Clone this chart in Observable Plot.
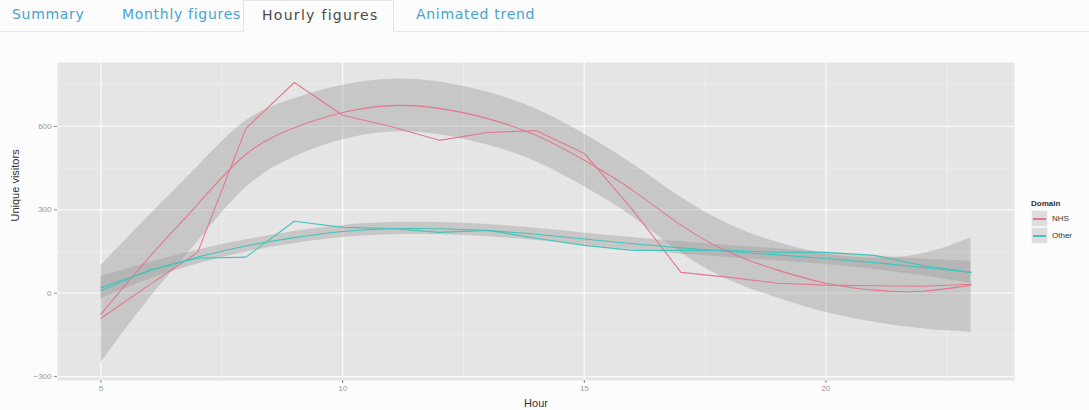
<!DOCTYPE html>
<html>
<head>
<meta charset="utf-8">
<script src="https://cdn.jsdelivr.net/npm/d3@7"></script>
<script src="https://cdn.jsdelivr.net/npm/@observablehq/plot@0.6"></script>
<style>
  html, body { margin: 0; padding: 0; background: #fbfcfb; width: 1089px; height: 410px; overflow: hidden; font-family: "Liberation Sans", Arial, sans-serif; }
  #tabs { position: relative; height: 32px; border-bottom: 1px solid #e6e8e8; box-sizing: border-box; }
  .tab { position: absolute; top: 6px; font-family: "DejaVu Sans", sans-serif; font-size: 14px; letter-spacing: 0.7px; color: #45a3d4; white-space: nowrap; }
  .tab.active { top: 0; height: 32px; box-sizing: border-box; border: 1px solid #e4e6e6; border-bottom: 1px solid #fbfcfb; background: #fbfcfb; color: #4a4a4a; letter-spacing: 1.3px; padding: 6px 15px 0 18px; }
  #chart { position: relative; }
  #legend { position: absolute; left: 1031px; top: 167px; font-size: 8px; color: #333; }
  #legend .title { font-weight: bold; margin-bottom: 2px; }
  .key { display: flex; align-items: center; height: 17px; }
  .sw { width: 17px; height: 17px; background: #dcdddc; position: relative; margin-right: 4px; border: 0.5px solid #f4f4f4; box-sizing: border-box;}
  .sw i { position: absolute; left: 1px; right: 1px; top: 7px; height: 2px; }
</style>
</head>
<body>
<div id="tabs">
  <span class="tab" style="left:12px">Summary</span>
  <span class="tab" style="left:122px">Monthly figures</span>
  <span class="tab active" style="left:243px">Hourly figures</span>
  <span class="tab" style="left:416px">Animated trend</span>
</div>
<div id="chart"></div>
<script>
const hours = [5,6,7,8,9,10,11,12,13,14,15,16,17,18,19,20,21,22,23];
const nhsRaw = [-90,30,147,593,758,640,600,550,578,585,503,300,75,57,36,29,27,25,32];
const nhsSmooth = [-75,130,320,500,595,650,675,665,628,568,478,370,245,147,83,36,11,7,29];
const nhsSe = [175,150,135,120,105,98,95,95,95,95,95,95,100,100,100,105,115,135,170];
const otherRaw = [10,83,126,130,259,237,233,219,226,198,172,154,154,154,147,147,136,100,75];
const otherSmooth = [20,80,130,170,200,222,232,232,225,212,195,178,163,150,138,125,110,93,75];
const otherSe = [40,30,25,22,22,22,22,22,22,22,22,22,22,22,22,22,25,30,40];
const domains = ["NHS","Other"];
const colors = ["#e3788d","#45c3bb"];
const xTicks = [5,10,15,20];
const yTicks = [-300,0,300,600];
const xMinor = [7.5,12.5,17.5,22.5];
const yMinor = [-150,150,450,750];

const rows = [];
hours.forEach((h,i) => {
  rows.push({hour:h, domain:"NHS", raw:nhsRaw[i], fit:nhsSmooth[i], lo:nhsSmooth[i]-nhsSe[i], hi:nhsSmooth[i]+nhsSe[i]});
  rows.push({hour:h, domain:"Other", raw:otherRaw[i], fit:otherSmooth[i], lo:otherSmooth[i]-otherSe[i], hi:otherSmooth[i]+otherSe[i]});
});

const chart = Plot.plot({
  width: 1089,
  height: 377,
  marginLeft: 57,
  marginRight: 75,
  marginTop: 30,
  marginBottom: 29,
  style: {background: "transparent", fontFamily: "Liberation Sans, Arial, sans-serif"},
  x: {domain: [4.1, 23.9], ticks: xTicks, tickSize: 3, tickFormat: d => d, label: null},
  y: {domain: [-314, 830], ticks: yTicks, tickSize: 3, tickFormat: d => d, label: null},
  color: {domain: domains, range: colors},
  marks: [
    Plot.frame({fill: "#e4e5e4", stroke: null}),
    Plot.gridX(xMinor, {stroke: "#f2f3f2", strokeOpacity: 1, strokeWidth: 0.6}),
    Plot.gridY(yMinor, {stroke: "#f2f3f2", strokeOpacity: 1, strokeWidth: 0.6}),
    Plot.gridX(xTicks, {stroke: "#fafafa", strokeOpacity: 1, strokeWidth: 1.3}),
    Plot.gridY(yTicks, {stroke: "#fafafa", strokeOpacity: 1, strokeWidth: 1.3}),
    Plot.areaY(rows, {x: "hour", y1: "lo", y2: "hi", z: "domain", fill: "#9a9a9a", fillOpacity: 0.4, curve: "natural"}),
    Plot.line(rows, {x: "hour", y: "raw", z: "domain", stroke: "domain", strokeWidth: 1.1}),
    Plot.line(rows, {x: "hour", y: "fit", z: "domain", stroke: "domain", strokeWidth: 1.1, curve: "natural"}),
    Plot.axisX({ticks: xTicks, tickSize: 3, stroke: "#888", fill: "#999", fontSize: 8, tickPadding: 2, label: null}),
    Plot.axisY({ticks: yTicks, tickSize: 3, stroke: "#888", fill: "#999", fontSize: 8, tickPadding: 3, label: null}),
    Plot.text(["Hour"], {frameAnchor: "bottom", dy: 26, fontSize: 11, fill: "#333"}),
    Plot.text(["Unique visitors"], {frameAnchor: "left", dx: -42, rotate: -90, fontSize: 11, fill: "#333"})
  ]
});
document.getElementById("chart").appendChild(chart);

const leg = document.createElement("div");
leg.id = "legend";
leg.innerHTML = `<div class="title">Domain</div>` + domains.map((d,i) =>
  `<div class="key"><div class="sw"><i style="background:${colors[i]}"></i></div><span>${d}</span></div>`).join("");
document.getElementById("chart").appendChild(leg);
</script>
</body>
</html>
